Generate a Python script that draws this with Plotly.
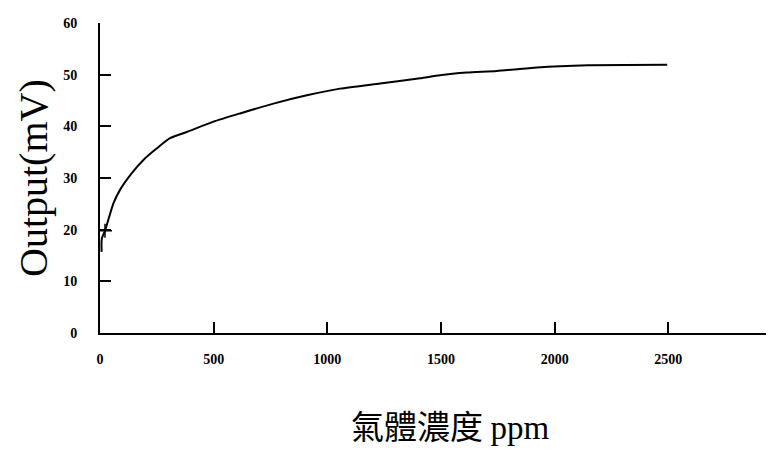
import plotly.graph_objects as go

# Data
concentration_ppm = [7, 8, 22, 59, 88, 139, 191, 249, 308, 381, 499, 616, 763, 910,
                     1056, 1232, 1408, 1496, 1614, 1745, 1923, 2147, 2495]
output_mv = [15.7, 18.3, 19.8, 25.1, 27.7, 30.9, 33.5, 35.7, 37.7, 38.9, 40.9, 42.5,
             44.4, 46.0, 47.3, 48.3, 49.3, 49.9, 50.4, 50.7, 51.4, 51.8, 51.9]
marker_x = [22]
marker_y = [19.8]

x_ticks = [0, 500, 1000, 1500, 2000, 2500]
y_ticks = [0, 10, 20, 30, 40, 50, 60]

fig = go.Figure()
fig.add_trace(go.Scatter(x=concentration_ppm, y=output_mv, mode="lines",
                         line=dict(color="black", width=2, shape="spline", smoothing=0.6),
                         showlegend=False))
fig.add_trace(go.Scatter(x=marker_x, y=marker_y, mode="markers",
                         marker=dict(symbol="cross-thin", size=10, color="black",
                                     line=dict(color="black", width=1.5)),
                         showlegend=False))

tick_font = dict(family="Liberation Serif", size=14, color="black", weight="bold")

fig.update_layout(
    width=766, height=442,
    margin=dict(l=92, r=0, t=15, b=117),
    paper_bgcolor="white", plot_bgcolor="white",
    xaxis=dict(range=[0, 2965], tickvals=x_ticks, ticktext=[str(v) for v in x_ticks],
               ticks="inside", ticklen=11, tickwidth=2, tickcolor="black",
               showline=True, linecolor="black", linewidth=2, showgrid=False,
               zeroline=False, tickfont=tick_font, ticklabelstandoff=12),
    yaxis=dict(range=[0, 60], tickvals=y_ticks, ticktext=[str(v) for v in y_ticks],
               ticks="inside", ticklen=11, tickwidth=2, tickcolor="black",
               showline=True, linecolor="black", linewidth=2, showgrid=False,
               zeroline=False, tickfont=tick_font, ticklabelstandoff=18),
    annotations=[
        dict(text="Output(mV)", xref="paper", yref="paper", x=0, y=0.5,
             xshift=-67, textangle=-90, showarrow=False,
             xanchor="center", yanchor="middle",
             font=dict(family="Liberation Serif", size=40, color="black")),
        dict(text="氣體濃度 <span style='font-family:Liberation Serif'>ppm</span>",
             xref="paper", yref="paper", x=0.519, y=0,
             yshift=-92, showarrow=False, xanchor="center", yanchor="middle",
             font=dict(family="Noto Sans CJK TC", size=33, color="black")),
    ],
)

fig.write_html("out.html")
